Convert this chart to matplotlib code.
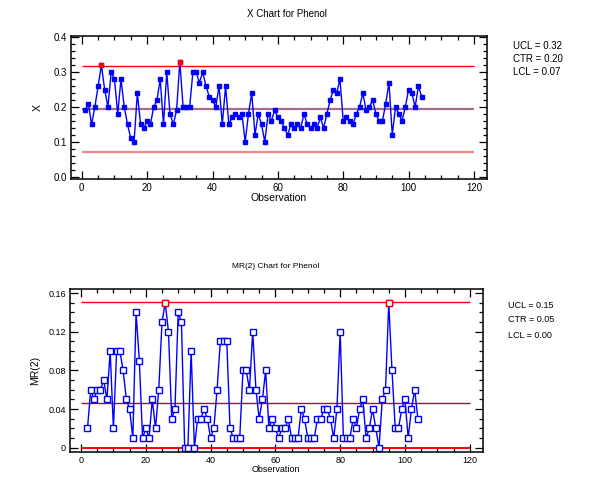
import numpy as np
import matplotlib
matplotlib.use("Agg")
import matplotlib.pyplot as plt
from matplotlib.ticker import MultipleLocator

plt.rcParams['font.family'] = ['Liberation Sans', 'DejaVu Sans']

# Individual values (X chart)
x_vals = [0.19, 0.21, 0.15, 0.20, 0.26, 0.32, 0.25, 0.20, 0.30, 0.28,
          0.18, 0.28, 0.20, 0.15, 0.11, 0.10, 0.24, 0.15, 0.14, 0.16,
          0.15, 0.20, 0.22, 0.28, 0.15, 0.30, 0.18, 0.15, 0.19, 0.33,
          0.20, 0.20, 0.20, 0.30, 0.30, 0.27, 0.30, 0.26, 0.23, 0.22,
          0.20, 0.26, 0.15, 0.26, 0.15, 0.17, 0.18, 0.17, 0.18, 0.10,
          0.18, 0.24, 0.12, 0.18, 0.15, 0.10, 0.18, 0.16, 0.19, 0.17,
          0.16, 0.14, 0.12, 0.15, 0.14, 0.15, 0.14, 0.18, 0.15, 0.14,
          0.15, 0.14, 0.17, 0.14, 0.18, 0.22, 0.25, 0.24, 0.28, 0.16,
          0.17, 0.16, 0.15, 0.18, 0.20, 0.24, 0.19, 0.20, 0.22, 0.18,
          0.16, 0.16, 0.21, 0.27, 0.12, 0.20, 0.18, 0.16, 0.20, 0.25,
          0.24, 0.20, 0.26, 0.23]

# Moving ranges (MR(2) chart), starting at observation 2
mr_vals = [0.02, 0.06, 0.05, 0.06, 0.06, 0.07, 0.05, 0.10, 0.02, 0.10,
           0.10, 0.08, 0.05, 0.04, 0.01, 0.14, 0.09, 0.01, 0.02, 0.01,
           0.05, 0.02, 0.06, 0.13, 0.15, 0.12, 0.03, 0.04, 0.14, 0.13,
           0.00, 0.00, 0.10, 0.00, 0.03, 0.03, 0.04, 0.03, 0.01, 0.02,
           0.06, 0.11, 0.11, 0.11, 0.02, 0.01, 0.01, 0.01, 0.08, 0.08,
           0.06, 0.12, 0.06, 0.03, 0.05, 0.08, 0.02, 0.03, 0.02, 0.01,
           0.02, 0.02, 0.03, 0.01, 0.01, 0.01, 0.04, 0.03, 0.01, 0.01,
           0.01, 0.03, 0.03, 0.04, 0.04, 0.03, 0.01, 0.04, 0.12, 0.01,
           0.01, 0.01, 0.03, 0.02, 0.04, 0.05, 0.01, 0.02, 0.04, 0.02,
           0.00, 0.05, 0.06, 0.15, 0.08, 0.02, 0.02, 0.04, 0.05, 0.01,
           0.04, 0.06, 0.03]

x_limits = [0.318, 0.195, 0.071]   # UCL, CTR, LCL
mr_limits = [0.151, 0.046, 0.0]
x_labels = ["UCL = 0.32", "CTR = 0.20", "LCL = 0.07"]
mr_labels = ["UCL = 0.15", "CTR = 0.05", "LCL = 0.00"]

obs_x = np.arange(1, len(x_vals) + 1)
obs_mr = np.arange(2, len(mr_vals) + 2)
x_arr = np.array(x_vals)
mr_arr = np.array(mr_vals)

fig = plt.figure(figsize=(5.89, 4.83), dpi=100)
W, H = 589, 483

def style_axes(ax):
    for s in ax.spines.values():
        s.set_linewidth(1.1)
    ax.tick_params(which='both', direction='in', top=True, right=True,
                   labelsize=7, width=0.9, pad=3)
    ax.tick_params(which='major', length=6)
    ax.tick_params(which='minor', length=3)
    ax.xaxis.set_major_locator(MultipleLocator(20))
    ax.xaxis.set_minor_locator(MultipleLocator(5))

# ---- X chart ----
ax1 = fig.add_axes([71 / W, 1 - 179 / H, (486.7 - 71) / W, (179 - 35.7) / H])
ax1.hlines(x_limits[0], 0, 120, color='#ff0000', lw=1.0)
ax1.hlines(x_limits[1], 0, 120, color='#a86c8c', lw=1.6)
ax1.hlines(x_limits[2], 0, 120, color='#ff8484', lw=1.6)
ax1.plot(obs_x, x_arr, color='#0000ff', lw=1.0, marker='s', ms=2.2,
         mfc='#0000ff', mec='#0000ff')
out = x_arr > x_limits[0]
ax1.plot(obs_x[out], x_arr[out], ls='none', marker='s', ms=2.2,
         mfc='#ff0000', mec='#ff0000')
ax1.set_xlim(-3.3, 123.9)
ax1.set_ylim(-0.0066, 0.4046)
ax1.yaxis.set_major_locator(MultipleLocator(0.1))
ax1.yaxis.set_minor_locator(MultipleLocator(0.02))
style_axes(ax1)
ax1.set_xlabel("Observation", fontsize=7.5, labelpad=0)
ax1.set_ylabel("X", fontsize=7.5, labelpad=8)
fig.text(287 / W, 1 - 14 / H, "X Chart for Phenol", ha='center', va='center',
         fontsize=7)
for i, t in enumerate(x_labels):
    fig.text(513 / W, 1 - (46 + i * 13) / H, t, ha='left', va='center',
             fontsize=7)

# ---- MR(2) chart ----
ax2 = fig.add_axes([70 / W, 1 - 451.7 / H, (482.7 - 70) / W, (451.7 - 289.3) / H])
ax2.hlines(mr_limits[0], 0, 120, color='#ff0000', lw=1.0)
ax2.hlines(mr_limits[1], 0, 120, color='#7a2040', lw=1.0)
ax2.hlines(mr_limits[2], 0, 120, color='#ff0000', lw=1.4)
ax2.plot(obs_mr, mr_arr, color='#0000ff', lw=1.0, marker='s', ms=4.6,
         mfc='white', mec='#0000ff', mew=1.0)
out = mr_arr >= mr_limits[0] - 0.002
ax2.plot(obs_mr[out], mr_arr[out], ls='none', marker='s', ms=4.6,
         mfc='white', mec='#ff0000', mew=1.0)
ax2.set_xlim(-3.4, 124)
ax2.set_ylim(-0.0041, 0.164)
ax2.set_yticks([0, 0.04, 0.08, 0.12, 0.16])
ax2.set_yticklabels(["0", "0.04", "0.08", "0.12", "0.16"])
ax2.yaxis.set_minor_locator(MultipleLocator(0.01))
style_axes(ax2)
ax2.tick_params(labelsize=6.5)
ax2.set_xlabel("Observation", fontsize=6.5, labelpad=0)
ax2.set_ylabel("MR(2)", fontsize=7.5, labelpad=6)
fig.text(276 / W, 1 - 266 / H, "MR(2) Chart for Phenol", ha='center',
         va='center', fontsize=6)
for i, t in enumerate(mr_labels):
    fig.text(508 / W, 1 - (305 + i * 15) / H, t, ha='left', va='center',
             fontsize=6.5)

fig.savefig("out.png", dpi=100)
